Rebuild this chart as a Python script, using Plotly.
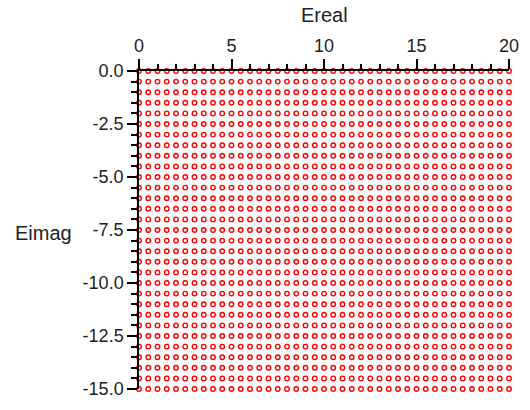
import plotly.graph_objects as go

# Sample grid of complex energies: real parts (columns) and imaginary parts (rows)
ereal = [0.0, 0.5, 1.0, 1.5, 2.0, 2.5, 3.0, 3.5, 4.0, 4.5, 5.0,
         5.5, 6.0, 6.5, 7.0, 7.5, 8.0, 8.5, 9.0, 9.5, 10.0,
         10.5, 11.0, 11.5, 12.0, 12.5, 13.0, 13.5, 14.0, 14.5, 15.0,
         15.5, 16.0, 16.5, 17.0, 17.5, 18.0, 18.5, 19.0, 19.5, 20.0]
eimag = [0.0, -0.5, -1.0, -1.5, -2.0, -2.5, -3.0, -3.5, -4.0, -4.5,
         -5.0, -5.5, -6.0, -6.5, -7.0, -7.5, -8.0, -8.5, -9.0, -9.5,
         -10.0, -10.5, -11.0, -11.5, -12.0, -12.5, -13.0, -13.5, -14.0, -14.5,
         -15.0]

x_tickvals = [0, 5, 10, 15, 20]
x_ticktext = ["0", "5", "10", "15", "20"]
y_tickvals = [0.0, -2.5, -5.0, -7.5, -10.0, -12.5, -15.0]
y_ticktext = ["0.0", "-2.5", "-5.0", "-7.5", "-10.0", "-12.5", "-15.0"]

xs = [x for y in eimag for x in ereal]
ys = [y for y in eimag for x in ereal]

font = "Liberation Sans, Arial, sans-serif"
tick_font = dict(family=font, size=18, color="#222222")
title_font = dict(family=font, size=20, color="#222222")

fig = go.Figure(go.Scatter(
    x=xs, y=ys, mode="markers",
    marker=dict(symbol="circle-open", size=4.5, color="#ff0000",
                line=dict(width=1.4, color="#ff0000")),
    cliponaxis=False, hoverinfo="x+y",
))

fig.update_layout(
    width=530, height=410,
    margin=dict(l=139, r=11, t=71, b=11),
    paper_bgcolor="white", plot_bgcolor="white",
    showlegend=False,
    font=dict(family=font, size=18, color="#222222"),
    xaxis=dict(
        side="top", range=[0, 20],
        tickvals=x_tickvals, ticktext=x_ticktext, tickfont=tick_font,
        ticks="outside", ticklen=10, tickwidth=1.5, tickcolor="black",
        minor=dict(dtick=1, ticks="outside", ticklen=5, tickwidth=1.5, tickcolor="black"),
        showline=True, linecolor="black", linewidth=1.5,
        showgrid=False, zeroline=False,
    ),
    yaxis=dict(
        range=[-15, 0],
        tickvals=y_tickvals, ticktext=y_ticktext, tickfont=tick_font,
        ticks="outside", ticklen=10, tickwidth=1.5, tickcolor="black",
        minor=dict(dtick=0.5, ticks="outside", ticklen=6, tickwidth=1.5, tickcolor="black"),
        showline=True, linecolor="black", linewidth=1.5,
        showgrid=False, zeroline=False,
    ),
    annotations=[
        dict(text="Ereal", xref="paper", yref="paper", x=0.5, y=1.175,
             xanchor="center", yanchor="middle", showarrow=False, font=title_font),
        dict(text="Eimag", xref="paper", yref="paper", x=-0.176, y=0.489,
             xanchor="right", yanchor="middle", showarrow=False, font=title_font),
    ],
)

fig.write_html("out.html")
